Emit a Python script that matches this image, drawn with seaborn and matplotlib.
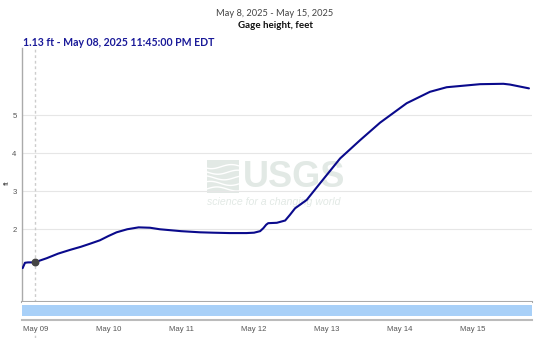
import numpy as np
import pandas as pd
import matplotlib
matplotlib.use("Agg")
import matplotlib.pyplot as plt
import matplotlib.dates as mdates
from matplotlib.lines import Line2D
import seaborn as sns

# Gage height readings (feet), May 8 - May 15, 2025
times = [
    "2025-05-08 19:50", "2025-05-08 20:36", "2025-05-08 21:35", "2025-05-08 23:45",
    "2025-05-09 03:45", "2025-05-09 07:30", "2025-05-09 11:30", "2025-05-09 15:00",
    "2025-05-09 18:00", "2025-05-09 21:15", "2025-05-10 00:00", "2025-05-10 02:45",
    "2025-05-10 06:15", "2025-05-10 10:00", "2025-05-10 13:45", "2025-05-10 17:00",
    "2025-05-11 00:00", "2025-05-11 06:15", "2025-05-11 10:30", "2025-05-11 16:00",
    "2025-05-11 21:30", "2025-05-12 00:00", "2025-05-12 02:00", "2025-05-12 03:05",
    "2025-05-12 04:00", "2025-05-12 04:40", "2025-05-12 07:30", "2025-05-12 10:15",
    "2025-05-12 11:50", "2025-05-12 13:30", "2025-05-12 17:20", "2025-05-12 21:45",
    "2025-05-13 04:20", "2025-05-13 10:55", "2025-05-13 17:30", "2025-05-14 02:15",
    "2025-05-14 09:55", "2025-05-14 15:25", "2025-05-15 02:25", "2025-05-15 10:05",
    "2025-05-15 12:15", "2025-05-15 18:30",
]
gage_ft = [
    0.98, 1.12, 1.13, 1.13,
    1.24, 1.36, 1.46, 1.54,
    1.62, 1.71, 1.82, 1.92,
    2.00, 2.05, 2.04, 2.00,
    1.95, 1.92, 1.91, 1.90,
    1.90, 1.91, 1.95, 2.03,
    2.12, 2.16, 2.17, 2.23,
    2.38, 2.55, 2.77, 3.21,
    3.86, 4.34, 4.80, 5.31,
    5.61, 5.73, 5.81, 5.82,
    5.80, 5.70,
]
marker_time = "2025-05-08 23:45"
marker_value = 1.13
y_ticks = [2, 3, 4, 5]
x_tick_days = ["2025-05-09", "2025-05-10", "2025-05-11", "2025-05-12",
               "2025-05-13", "2025-05-14", "2025-05-15"]

df = pd.DataFrame({"time": pd.to_datetime(times), "gage": gage_ft})
t_start = pd.Timestamp("2025-05-08 19:43")
t_end = pd.Timestamp("2025-05-15 19:30")

sns.set_theme(style="white")
plt.rcParams["font.family"] = ["Lato", "DejaVu Sans"]

W, H = 550, 338
fig = plt.figure(figsize=(W / 100, H / 100), dpi=100)

def fig_box(x0, y0, x1, y1):
    return [x0 / W, 1 - y1 / H, (x1 - x0) / W, (y1 - y0) / H]

ax = fig.add_axes(fig_box(22.3, 48, 532, 302))
nav = fig.add_axes(fig_box(22.3, 302, 532, 319.5), sharex=ax)

# USGS watermark behind the data
wm = "#e2e9e5"
ax.text(0.433, 0.492, "USGS", transform=ax.transAxes, fontsize=26, fontweight="bold",
        family=["Liberation Sans Narrow", "Liberation Sans"],
        color=wm, ha="left", va="center", zorder=0)
ax.add_patch(plt.Rectangle((0.362, 0.429), 0.063, 0.13, transform=ax.transAxes,
                           color=wm, zorder=0, lw=0))
wx = np.linspace(0.362, 0.425, 30)
for k in range(5):
    ax.plot(wx, 0.445 + 0.022 * k + 0.008 * np.sin((wx - 0.362) * 80 + k),
            transform=ax.transAxes, color="white", lw=1.0, zorder=0.5)
ax.text(0.362, 0.394, "science for a changing world", transform=ax.transAxes,
        fontsize=7.6, style="italic", color=wm, family="Liberation Sans",
        ha="left", va="center", zorder=0)

sns.lineplot(data=df, x="time", y="gage", ax=ax, color="#0a0a8c", lw=1.5, zorder=3)
ax.axvline(pd.Timestamp(marker_time), color="#cccccc", lw=1, ls=(0, (2, 2)), zorder=2)
ax.scatter([pd.Timestamp(marker_time)], [marker_value], s=22, color="#444444", zorder=4)

ax.set_xlim(t_start, t_end)
ax.set_ylim(0.09, 6.76)
ax.set_yticks(y_ticks)
ax.set_yticklabels([str(v) for v in y_ticks], family="Liberation Sans",
                   fontsize=5.6, color="#555555")
ax.tick_params(axis="y", length=0, pad=4)
ax.tick_params(axis="x", bottom=False, labelbottom=False)
ax.grid(axis="y", color="#e6e6e6", lw=0.8)
ax.set_xlabel("")
ax.set_ylabel("ft", family="Liberation Sans", fontsize=6, color="#555555")
ax.yaxis.set_label_coords(-(22.3 - 10.5) / (532 - 22.3), 1 - (183 - 48) / 254)
for s in ["top", "right"]:
    ax.spines[s].set_visible(False)
ax.spines["left"].set_color("#aaaaaa")
ax.spines["bottom"].set_color("#aaaaaa")
ax.spines["left"].set_linewidth(1)
ax.spines["bottom"].set_linewidth(1.5)

# navigator strip below the plot
nav.axhspan(0.18, 0.85, color="#a8d0f8", lw=0)
nav.set_ylim(0, 1)
nav.set_yticks([])
for s in ["top", "left", "right"]:
    nav.spines[s].set_visible(False)
nav.spines["bottom"].set_color("#bbbbbb")
nav.spines["bottom"].set_linewidth(1.5)
nav.set_xticks(pd.to_datetime(x_tick_days))
nav.xaxis.set_major_formatter(mdates.DateFormatter("%b %d"))
nav.tick_params(axis="x", length=3, width=0.8, color="#aaaaaa", labelsize=5.6,
                labelcolor="#555555", pad=2)
for lbl in nav.get_xticklabels():
    lbl.set_family("Liberation Sans")
nav.set_xlabel("")

# crosshair continues below the date labels
xm = ax.transData.transform((mdates.date2num(pd.Timestamp(marker_time)), 0))[0] / W
fig.add_artist(Line2D([xm, xm], [0, 6 / H], transform=fig.transFigure,
                      color="#cccccc", lw=1, ls=(0, (2, 2))))

fig.text(275 / W, 1 - 13 / H, "May 8, 2025 - May 15, 2025", ha="center", va="center",
         fontsize=6.7, color="#444444")
fig.text(275 / W, 1 - 25.5 / H, "Gage height, feet", ha="center", va="center",
         fontsize=7, fontweight="bold", color="#111111")
fig.text(23 / W, 1 - 42 / H, "1.13 ft - May 08, 2025 11:45:00 PM EDT", ha="left",
         va="center", fontsize=7.6, fontweight="bold", color="#1a1a99")

fig.savefig("out.png", dpi=100)
